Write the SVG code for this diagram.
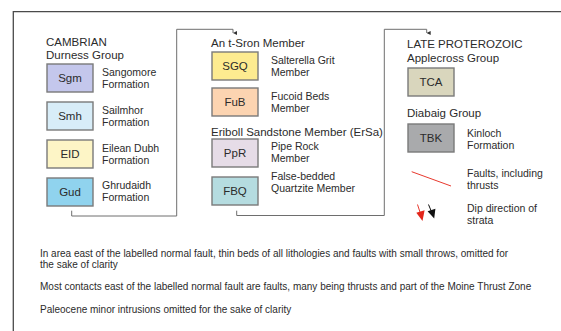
<svg xmlns="http://www.w3.org/2000/svg" width="561" height="331" viewBox="0 0 561 331">
  <style>
    text { font-family: "Liberation Sans", Arial, sans-serif; fill: #2b2b2b; }
    .head { font-size: 11.5px; }
    .lbl { font-size: 10.5px; }
    .code { font-size: 11.5px; text-anchor: middle; }
    .note { font-size: 10px; }
    .unit rect { stroke: #7a7a7a; stroke-width: 1.4; }
    .conn { fill: none; stroke: #6e6e6e; stroke-width: 1; }
    .frame { fill: none; stroke: #4a4a4a; stroke-width: 1.3; }
  </style>
  <defs>
    <marker id="tip" viewBox="0 0 6 6" refX="3" refY="6" markerWidth="4" markerHeight="4" orient="auto-start-reverse" markerUnits="userSpaceOnUse">
      <path d="M0,0 L3,6 L6,0 Z" fill="#333"/>
    </marker>
  </defs>

  <rect x="0" y="0" width="561" height="331" fill="#ffffff"/>
  <path class="frame" d="M13.3,331 V11.7 H561"/>

  <!-- Cambrian: Durness Group -->
  <text class="head" x="46" y="45.5">CAMBRIAN</text>
  <text class="head" x="46" y="59">Durness Group</text>

  <g id="sgm" class="unit">
    <rect x="47" y="64" width="46" height="28" fill="#c4c7ec"/>
    <text class="code" x="70" y="82">Sgm</text>
    <text class="lbl" x="102" y="76">Sangomore</text>
    <text class="lbl" x="102" y="88">Formation</text>
  </g>
  <g id="smh" class="unit">
    <rect x="47" y="102" width="46" height="28" fill="#d8edf8"/>
    <text class="code" x="70" y="120">Smh</text>
    <text class="lbl" x="102" y="114">Sailmhor</text>
    <text class="lbl" x="102" y="126">Formation</text>
  </g>
  <g id="eid" class="unit">
    <rect x="47" y="140" width="46" height="28" fill="#fdf5c6"/>
    <text class="code" x="70" y="158">EID</text>
    <text class="lbl" x="102" y="152">Eilean Dubh</text>
    <text class="lbl" x="102" y="164">Formation</text>
  </g>
  <g id="gud" class="unit">
    <rect x="47" y="178" width="46" height="28" fill="#90d3ee"/>
    <text class="code" x="70" y="196">Gud</text>
    <text class="lbl" x="102" y="189">Ghrudaidh</text>
    <text class="lbl" x="102" y="201">Formation</text>
  </g>

  <!-- An t-Sron and Eriboll members -->
  <text class="head" x="211" y="46.5">An t-Sron Member</text>
  <g id="sgq" class="unit">
    <rect x="212" y="52" width="46" height="28" fill="#fdeb90"/>
    <text class="code" x="235" y="70">SGQ</text>
    <text class="lbl" x="271" y="64">Salterella Grit</text>
    <text class="lbl" x="271" y="76">Member</text>
  </g>
  <g id="fub" class="unit">
    <rect x="212" y="88" width="46" height="28" fill="#fcd4b1"/>
    <text class="code" x="235" y="106">FuB</text>
    <text class="lbl" x="271" y="100">Fucoid Beds</text>
    <text class="lbl" x="271" y="112">Member</text>
  </g>
  <text class="head" x="211" y="135.5">Eriboll Sandstone Member (ErSa)</text>
  <g id="ppr" class="unit">
    <rect x="212" y="139" width="46" height="28" fill="#e6dce7"/>
    <text class="code" x="235" y="157">PpR</text>
    <text class="lbl" x="271" y="150">Pipe Rock</text>
    <text class="lbl" x="271" y="162">Member</text>
  </g>
  <g id="fbq" class="unit">
    <rect x="212" y="177" width="46" height="28" fill="#b5dce0"/>
    <text class="code" x="235" y="195">FBQ</text>
    <text class="lbl" x="271" y="180">False-bedded</text>
    <text class="lbl" x="271" y="192">Quartzite Member</text>
  </g>

  <!-- Late Proterozoic -->
  <text class="head" x="407" y="48">LATE PROTEROZOIC</text>
  <text class="head" x="407" y="61.5">Applecross Group</text>
  <g id="tca" class="unit">
    <rect x="408" y="68" width="46" height="28" fill="#d9d6bd"/>
    <text class="code" x="431" y="86">TCA</text>
  </g>
  <text class="head" x="407" y="116.5">Diabaig Group</text>
  <g id="tbk" class="unit">
    <rect x="408" y="124" width="46" height="28" fill="#a9aaac"/>
    <text class="code" x="431" y="142">TBK</text>
    <text class="lbl" x="467" y="137">Kinloch</text>
    <text class="lbl" x="467" y="149">Formation</text>
  </g>

  <!-- Symbols -->
  <g id="fault-key">
    <line x1="411.7" y1="171.7" x2="451" y2="186" stroke="#e8392e" stroke-width="1"/>
    <text class="lbl" x="467" y="177">Faults, including</text>
    <text class="lbl" x="467" y="189">thrusts</text>
  </g>
  <g id="dip-key">
    <line x1="417.5" y1="204.5" x2="420.3" y2="213" stroke="#e8392e" stroke-width="1"/>
    <polygon points="422.5,221 416.3,212.8 424.6,210.2" fill="#e3261b"/>
    <line x1="428.5" y1="204.5" x2="431.2" y2="211" stroke="#111" stroke-width="1"/>
    <polygon points="434.2,218.5 427.6,211.3 435.4,208.7" fill="#111"/>
    <text class="lbl" x="467" y="212">Dip direction of</text>
    <text class="lbl" x="467" y="223.5">strata</text>
  </g>

  <!-- Connectors between the columns -->
  <g id="connectors">
    <path class="conn" d="M71.7,210.7 V216 H176.7 V29.3 H233 V33" marker-end="url(#tip)"/>
    <path class="conn" d="M236.7,210.7 V215.5 H384.3 V29.3 H426.7 V33" marker-end="url(#tip)"/>
  </g>

  <!-- Notes -->
  <g id="notes">
    <text class="note" x="40" y="257">In area east of the labelled normal fault, thin beds of all lithologies and faults with small throws, omitted for</text>
    <text class="note" x="40" y="268">the sake of clarity</text>
    <text class="note" x="40" y="290">Most contacts east of the labelled normal fault are faults, many being thrusts and part of the Moine Thrust Zone</text>
    <text class="note" x="40" y="313">Paleocene minor intrusions omitted for the sake of clarity</text>
  </g>
</svg>
